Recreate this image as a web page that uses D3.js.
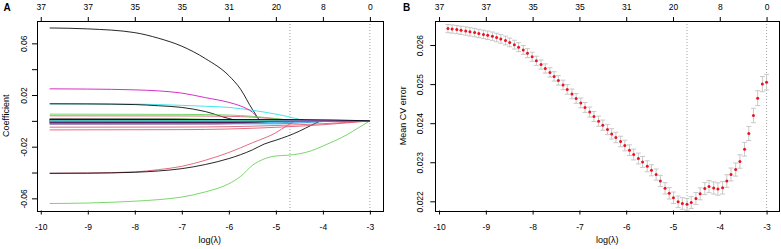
<!DOCTYPE html>
<html>
<head>
<meta charset="utf-8">
<script src="https://cdn.jsdelivr.net/npm/d3@7"></script>
<style>
	body { margin: 0; background: #fff; }
	svg { font-family: "Liberation Sans", Arial, sans-serif; }
</style>
</head>
<body>
<svg id="chart" width="781" height="249"></svg>
<script>
// axis ticks and labels
const xTicks = [-10, -9, -8, -7, -6, -5, -4, -3];
const dfLabels = ['37', '37', '35', '35', '31', '20', '8', '0'];
const coefTicks = [-0.06, -0.04, -0.02, 0, 0.02, 0.04, 0.06];
const coefTickLabels = ['-0.06', '', '-0.02', '', '0.02', '', '0.06'];
const cvTicks = [0.022, 0.023, 0.024, 0.025, 0.026];
const cvTickLabels = ['0.022', '0.023', '0.024', '0.025', '0.026'];

// vertical reference lines (log lambda)
const refLines = [-4.70, -3.00];

// glmnet default palette (matplot col 1:6)
const pathColors = ['#000000', '#DF536B', '#61D04F', '#2297E6', '#28E2E5', '#CD0BBC'];

// coefficient paths, one per variable: [log(lambda), coefficient]
const coefPaths = [
	[[-9.81,0.0719],[-9,0.0712],[-8,0.0683],[-7.5,0.064],[-7,0.0578],[-6.5,0.0482],[-6,0.035],[-5.75,0.0245],[-5.5,0.009],[-5.3,0],[-3,0]],
	[[-9.81,-0.0406],[-9,-0.0404],[-8,-0.0395],[-7.5,-0.0378],[-7,-0.0352],[-6.5,-0.0305],[-6,-0.0245],[-5.5,-0.017],[-5,-0.0092],[-4.75,-0.0035],[-4.55,0],[-3,0]],
	[[-9.81,-0.064],[-9,-0.0636],[-8,-0.0622],[-7.5,-0.061],[-7,-0.059],[-6.5,-0.055],[-6,-0.0487],[-5.75,-0.043],[-5.5,-0.0345],[-5.25,-0.0295],[-5,-0.0272],[-4.75,-0.0266],[-4.5,-0.0255],[-4.25,-0.0232],[-4,-0.0195],[-3.75,-0.0155],[-3.5,-0.011],[-3.25,-0.0055],[-3,0]],
	[[-9.81,0.0008],[-6,0.00075],[-4.5,0],[-3,0]],
	[[-9.81,0.0132],[-9,0.0131],[-8,0.013],[-7,0.012],[-6.5,0.0113],[-6,0.0104],[-5.5,0.0082],[-5,0.0052],[-4.75,0.0034],[-4.5,0.0012],[-4.3,0],[-3,0]],
	[[-9.81,0.0248],[-9,0.0246],[-8,0.024],[-7.5,0.0232],[-7,0.0215],[-6.5,0.018],[-6,0.0143],[-5.75,0.0115],[-5.5,0.0068],[-5.3,0],[-3,0]],
	[[-9.81,0.0132],[-9,0.0131],[-8,0.0126],[-7.5,0.0117],[-7,0.0104],[-6.5,0.0072],[-6,0.0018],[-5.75,0],[-3,0]],
	[[-9.81,0.0039],[-7,0.0038],[-6,0.0035],[-5.5,0.0029],[-5,0.0015],[-4.5,0],[-3,0]],
	[[-9.81,0.0052],[-7,0.005],[-6,0.0045],[-5.5,0.0035],[-5,0.0018],[-4.5,0],[-3,0]],
	[[-9.81,-0.0012],[-6.5,-0.0011],[-5,0],[-3,0]],
	[[-9.81,-0.002],[-6,-0.0019],[-4.25,0],[-3,0]],
	[[-9.81,0.001],[-8,0.0009],[-6.5,0],[-3,0]],
	[[-9.81,-0.0406],[-9,-0.0405],[-8,-0.0398],[-7.5,-0.0388],[-7,-0.037],[-6.5,-0.0338],[-6,-0.0292],[-5.5,-0.0225],[-5.25,-0.018],[-5,-0.015],[-4.75,-0.0118],[-4.5,-0.008],[-4.25,-0.0035],[-4,0],[-3,0]],
	[[-9.81,-0.0049],[-7,-0.0048],[-6,-0.0045],[-5,-0.0036],[-4,-0.0022],[-3.5,-0.0012],[-3,0]],
	[[-9.81,0.0018],[-7,0.0017],[-5.5,0],[-3,0]],
	[[-9.81,-0.0008],[-5,-0.0007],[-3.5,0],[-3,0]],
	[[-9.81,-0.0016],[-7.25,-0.0015],[-5.75,0],[-3,0]],
	[[-9.81,0.0004],[-9,0.0003],[-7.5,0],[-3,0]],
	[[-9.81,0.0006],[-4.75,0.0005],[-3.25,0],[-3,0]],
	[[-9.81,-0.007],[-7,-0.0068],[-6,-0.0063],[-5,-0.005],[-4,-0.003],[-3.5,-0.0016],[-3,0]],
	[[-9.81,-0.0006],[-7.5,-0.0005],[-6,0],[-3,0]],
	[[-9.81,-0.0022],[-6.25,-0.0021],[-4.75,0],[-3,0]],
	[[-9.81,-0.001],[-6.75,-0.0009],[-5.25,0],[-3,0]],
	[[-9.81,-0.0003],[-9.2,-0.0002],[-8,0],[-3,0]],
	[[-9.81,0.0002],[-5.5,0.0002],[-4,0],[-3,0]],
	[[-9.81,-0.0026],[-6.25,-0.0025],[-4.75,0],[-3,0]],
	[[-9.81,0.0012],[-7,0.0011],[-5.5,0],[-3,0]],
	[[-9.81,-0.0018],[-5.25,-0.0017],[-3.75,0],[-3,0]],
	[[-9.81,-0.0004],[-8,-0.0004],[-6.5,0],[-3,0]],
	[[-9.81,0.0014],[-7.25,0.0013],[-5.75,0],[-3,0]],
	[[-9.81,-0.0014],[-6,-0.0013],[-4.5,0],[-3,0]],
	[[-9.81,0.0003],[-6.5,0.0003],[-5,0],[-3,0]],
	[[-9.81,-0.0001],[-7.5,-0.0001],[-6,0],[-3,0]],
	[[-9.81,-0.0024],[-5,-0.0023],[-3.5,0],[-3,0]],
	[[-9.81,0.0001],[-6.75,0.0001],[-5.25,0],[-3,0]],
	[[-9.81,-0.0009],[-5.75,-0.0008],[-4.25,0],[-3,0]],
	[[-9.81,0.0011],[-4.5,0.001],[-3,0]]
];

// cross-validation curve
const cvLogLambda = [
	-9.81,-9.72,-9.62,-9.53,-9.43,-9.34,-9.24,-9.15,-9.05,-8.96,
	-8.86,-8.77,-8.68,-8.58,-8.49,-8.39,-8.30,-8.20,-8.11,-8.01,
	-7.92,-7.82,-7.73,-7.63,-7.54,-7.45,-7.35,-7.26,-7.16,-7.07,
	-6.97,-6.88,-6.78,-6.69,-6.59,-6.50,-6.40,-6.31,-6.22,-6.12,
	-6.03,-5.93,-5.84,-5.74,-5.65,-5.55,-5.46,-5.36,-5.27,-5.17,
	-5.08,-4.99,-4.89,-4.80,-4.70,-4.61,-4.51,-4.42,-4.32,-4.23,
	-4.13,-4.04,-3.94,-3.85,-3.76,-3.66,-3.57,-3.47,-3.38,-3.28,
	-3.19,-3.09,-3.00
];
const cvMean = [
	0.026420,0.026410,0.026395,0.026377,0.026359,0.026338,0.026318,0.026295,0.026272,0.026249,
	0.026223,0.026192,0.026156,0.026115,0.026067,0.026010,0.025946,0.025874,0.025792,0.025700,
	0.025597,0.025500,0.025400,0.025300,0.025197,0.025095,0.024979,0.024864,0.024749,0.024633,
	0.024518,0.024403,0.024285,0.024169,0.024051,0.023949,0.023838,0.023726,0.023633,0.023531,
	0.023428,0.023308,0.023197,0.023095,0.023008,0.022897,0.022795,0.022685,0.022521,0.022333,
	0.022205,0.022090,0.021987,0.021944,0.021923,0.021969,0.022072,0.022192,0.022326,0.022377,
	0.022341,0.022315,0.022346,0.022518,0.022687,0.022813,0.023018,0.023333,0.023736,0.024197,
	0.024641,0.025000,0.025050
];
const cvSE = [
	0.000105,0.000105,0.000106,0.000106,0.000107,0.000107,0.000108,0.000108,0.000109,0.000109,
	0.000110,0.000110,0.000111,0.000112,0.000112,0.000113,0.000114,0.000114,0.000115,0.000116,
	0.000117,0.000117,0.000118,0.000119,0.000120,0.000121,0.000122,0.000123,0.000124,0.000125,
	0.000126,0.000127,0.000128,0.000129,0.000130,0.000131,0.000132,0.000133,0.000134,0.000135,
	0.000136,0.000137,0.000138,0.000139,0.000140,0.000141,0.000142,0.000143,0.000144,0.000145,
	0.000146,0.000147,0.000148,0.000149,0.000150,0.000151,0.000152,0.000153,0.000154,0.000155,
	0.000156,0.000158,0.000160,0.000162,0.000165,0.000168,0.000172,0.000176,0.000180,0.000185,
	0.000190,0.000195,0.000200
];

const svg = d3.select('#chart');
const X_DOMAIN = [-10.08, -2.73];
const TICK_FONT = 8.5;

function drawPanel(box, yDomain, yTicks, yLabels, yLabelOffset) {
	const x = d3.scaleLinear().domain(X_DOMAIN).range([box.left, box.right]);
	const y = d3.scaleLinear().domain(yDomain).range([box.bottom, box.top]);

	const clean = (g) => {
		g.select('.domain').remove();
		g.selectAll('text').attr('font-size', TICK_FONT).attr('font-family', null).attr('fill', '#000');
		g.selectAll('line').attr('stroke', '#000');
	};

	// bottom axis
	svg.append('g')
		.attr('transform', `translate(0,${box.bottom})`)
		.call(d3.axisBottom(x).tickValues(xTicks).tickSize(4).tickPadding(9.5).tickFormat(d3.format('d')))
		.call(clean)
		.selectAll('text').text((d) => String(d).replace('\u2212', '-'));

	// top axis with number of nonzero coefficients
	svg.append('g')
		.attr('transform', `translate(0,${box.top})`)
		.call(d3.axisTop(x).tickValues(xTicks).tickSize(4).tickPadding(7.3).tickFormat((d, i) => dfLabels[i]))
		.call(clean);

	// left axis, labels parallel to the axis
	svg.append('g')
		.attr('transform', `translate(${box.left},0)`)
		.call(d3.axisLeft(y).tickValues(yTicks).tickSize(5).tickFormat((d, i) => yLabels[i]))
		.call(clean)
		.selectAll('text')
		.attr('x', null)
		.attr('dy', null)
		.attr('text-anchor', 'middle')
		.attr('transform', `translate(${yLabelOffset},0) rotate(-90)`);

	// reference lines
	svg.append('g')
		.selectAll('line')
		.data(refLines)
		.join('line')
		.attr('x1', (d) => x(d))
		.attr('x2', (d) => x(d))
		.attr('y1', box.top)
		.attr('y2', box.bottom)
		.attr('stroke', '#999')
		.attr('stroke-width', 0.9)
		.attr('stroke-dasharray', '1,2');

	return { x, y };
}

function drawFrame(box) {
	svg.append('rect')
		.attr('x', Math.round(box.left) + 0.5)
		.attr('y', Math.round(box.top) + 0.5)
		.attr('width', Math.round(box.right - box.left))
		.attr('height', Math.round(box.bottom - box.top))
		.attr('fill', 'none')
		.attr('stroke', '#000')
		.attr('stroke-width', 1);
}

// Panel A: coefficient paths
const boxA = { left: 37, right: 382.6, top: 21, bottom: 210.5 };
const a = drawPanel(boxA, [-0.0694, 0.0773], coefTicks, coefTickLabels, -10.5);

const pathLine = d3.line()
	.x((d) => a.x(d[0]))
	.y((d) => a.y(d[1]))
	.curve(d3.curveMonotoneX);

svg.append('g')
	.selectAll('path')
	.data(coefPaths)
	.join('path')
	.attr('d', pathLine)
	.attr('fill', 'none')
	.attr('stroke', (d, i) => pathColors[i % pathColors.length])
	.attr('stroke-width', 0.85);

drawFrame(boxA);

// Panel B: CV error
const boxB = { left: 435.3, right: 779.2, top: 21, bottom: 210.5 };
const b = drawPanel(boxB, [0.021765, 0.026615], cvTicks, cvTickLabels, -12.5);

const cv = cvLogLambda.map((l, i) => ({ l, m: cvMean[i], se: cvSE[i] }));
const bars = svg.append('g').attr('stroke', '#c8c8c8').attr('stroke-width', 1);
bars.selectAll('.bar')
	.data(cv)
	.join('line')
	.attr('x1', (d) => b.x(d.l))
	.attr('x2', (d) => b.x(d.l))
	.attr('y1', (d) => b.y(d.m - d.se))
	.attr('y2', (d) => b.y(d.m + d.se));
bars.selectAll('.capTop')
	.data(cv)
	.join('line')
	.attr('x1', (d) => b.x(d.l) - 2.5)
	.attr('x2', (d) => b.x(d.l) + 2.5)
	.attr('y1', (d) => b.y(d.m + d.se))
	.attr('y2', (d) => b.y(d.m + d.se));
bars.selectAll('.capBottom')
	.data(cv)
	.join('line')
	.attr('x1', (d) => b.x(d.l) - 2.5)
	.attr('x2', (d) => b.x(d.l) + 2.5)
	.attr('y1', (d) => b.y(d.m - d.se))
	.attr('y2', (d) => b.y(d.m - d.se));

svg.append('g')
	.selectAll('circle')
	.data(cv)
	.join('circle')
	.attr('cx', (d) => b.x(d.l))
	.attr('cy', (d) => b.y(d.m))
	.attr('r', 1.5)
	.attr('fill', '#ee1122');

drawFrame(boxB);

// titles
const titles = [
	{ text: 'log(\u03bb)', x: (boxA.left + boxA.right) / 2, y: 243, rot: 0 },
	{ text: 'log(\u03bb)', x: (boxB.left + boxB.right) / 2, y: 243, rot: 0 },
	{ text: 'Coefficient', x: 8.5, y: (boxA.top + boxA.bottom) / 2, rot: -90 },
	{ text: 'Mean CV error', x: 405.5, y: (boxB.top + boxB.bottom) / 2, rot: -90 },
];
svg.selectAll('.title')
	.data(titles)
	.join('text')
	.attr('class', 'title')
	.attr('text-anchor', 'middle')
	.attr('font-size', 9)
	.attr('transform', (d) => `translate(${d.x},${d.y}) rotate(${d.rot})`)
	.text((d) => d.text);

svg.selectAll('.letter')
	.data([{ t: 'A', x: 3.5 }, { t: 'B', x: 403 }])
	.join('text')
	.attr('class', 'letter')
	.attr('x', (d) => d.x)
	.attr('y', 11)
	.attr('font-size', 10)
	.attr('font-weight', 'bold')
	.text((d) => d.t);
</script>
</body>
</html>
